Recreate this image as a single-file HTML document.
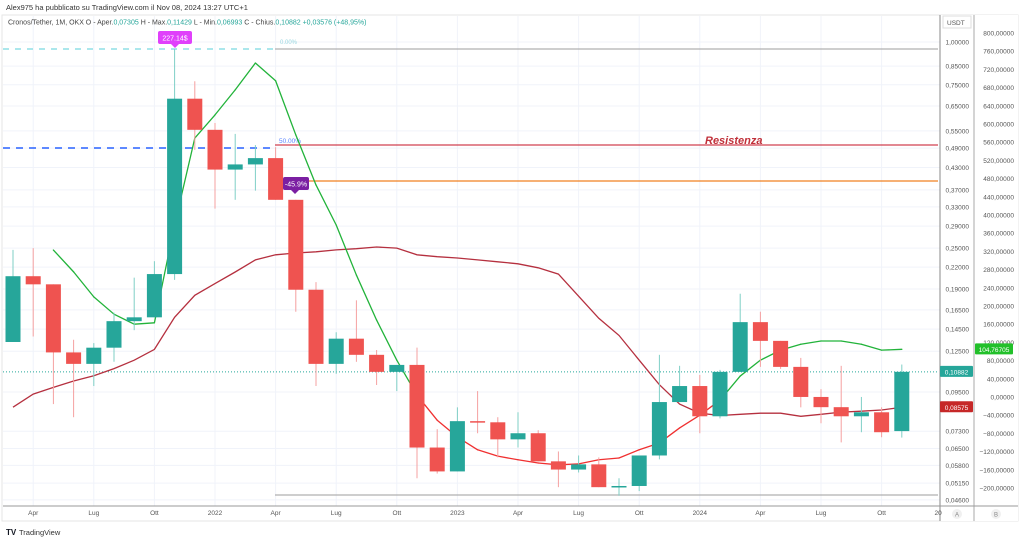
<!DOCTYPE html>
<html><head><meta charset="utf-8"><style>
html,body{margin:0;padding:0;background:#fff;width:1024px;height:541px;overflow:hidden}
svg{display:block;font-family:"Liberation Sans",sans-serif}
</style></head><body>
<svg id="chart" width="1024" height="541" viewBox="0 0 1024 541">
<rect x="0" y="0" width="1024" height="541" fill="#fff"/>
<text x="6" y="10" font-size="7.5" fill="#333">Alex975 ha pubblicato su TradingView.com il Nov 08, 2024 13:27 UTC+1</text>
<rect x="2" y="15" width="1016" height="506" fill="none" stroke="#e6e6e6"/>
<g id="grid"></g>
<g id="levels"></g>
<g id="lines"></g>
<g id="candles"></g>
<g id="axes"></g>
<text x="8" y="24.5" font-size="7" fill="#444">Cronos/Tether, 1M, OKX  O - Aper.<tspan fill="#26a69a">0,07305</tspan>  H - Max.<tspan fill="#26a69a">0,11429</tspan>  L - Min.<tspan fill="#26a69a">0,06993</tspan>  C - Chius.<tspan fill="#26a69a">0,10882  +0,03576 (+48,95%)</tspan></text>
<g><text x="6" y="535" font-size="8" font-weight="bold" fill="#131722">TV</text><text x="19" y="535" font-size="7.5" fill="#333">TradingView</text></g>
</svg>
<script>
const months=["Mar21","Apr21","May21","Jun21","Jul21","Aug21","Sep21","Oct21","Nov21","Dec21","Jan22","Feb22","Mar22","Apr22","May22","Jun22","Jul22","Aug22","Sep22","Oct22","Nov22","Dec22","Jan23","Feb23","Mar23","Apr23","May23","Jun23","Jul23","Aug23","Sep23","Oct23","Nov23","Dec23","Jan24","Feb24","Mar24","Apr24","May24","Jun24","Jul24","Aug24","Sep24","Oct24","Nov24"];
const opens=[.133,.207,.196,.124,.1148,.128,.153,.157,.210,.683,.554,.424,.439,.458,.346,.189,.1148,.136,.122,.1088,.114,.0654,.0557,.0781,.0775,.0691,.072,.0596,.0564,.0584,.0501,.0505,.062,.0888,.0989,.0807,.1088,.152,.134,.1125,.0919,.0858,.0807,.0829,.07305];
const highs=[.247,.25,.196,.135,.132,.162,.205,.229,.954,.768,.580,.539,.500,.493,.346,.199,.142,.176,.126,.1088,.128,.074,.0857,.0956,.0802,.0829,.0735,.0637,.062,.0612,.0532,.0616,.122,.1133,.1066,.1103,.184,.163,.134,.1195,.0969,.1133,.0919,.0857,.11429];
const lows=[.133,.138,.0876,.0802,.0989,.1164,.144,.157,.202,.484,.326,.346,.368,.346,.163,.0989,.1074,.1164,.0996,.0956,.0532,.0549,.0557,.072,.0612,.0654,.0596,.0501,.0553,.0501,.0473,.0488,.0604,.0888,.072,.0796,.1088,.1125,.111,.0857,.077,.0677,.0725,.0701,.06993];
const closes=[.207,.196,.124,.1148,.128,.153,.157,.210,.683,.554,.424,.439,.458,.346,.189,.1148,.136,.122,.1088,.114,.0654,.0557,.0781,.0775,.0691,.072,.0596,.0564,.0584,.0501,.0505,.062,.0888,.0989,.0807,.1088,.152,.134,.1125,.0919,.0858,.0807,.0829,.0725,.10882];
const slowMA=[.0858,.0937,.098,.1023,.106,.1112,.1177,.1265,.157,.182,.197,.213,.231,.239,.242,.244,.247,.249,.252,.25,.239,.236,.234,.231,.228,.225,.219,.21,.181,.156,.139,.1177,.0998,.0876,.0824,.0811,.0818,.0824,.0824,.0807,.0818,.083,.0835,.0842,.08575];
const fastOsc=[null,null,323,275,220,182,160,163,378,569,620,675,734,695,576,466,378,268,169,81,4,-51,-88,-116,-130,-138,-145,-149,-147,-138,-134,-116,-101,-68,-40,-7,46,81,103,116,123,123,116,103,104.77];
const priceTicks=[1.0,0.85,0.75,0.65,0.55,0.49,0.43,0.37,0.33,0.29,0.25,0.22,0.19,0.165,0.145,0.125,0.095,0.073,0.065,0.058,0.0515,0.046];
const oscTicks=[800,760,720,680,640,600,560,520,480,440,400,360,320,280,240,200,160,120,80,40,0,-40,-80,-120,-160,-200];
const timeLabels=["Apr","Lug","Ott","2022","Apr","Lug","Ott","2023","Apr","Lug","Ott","2024","Apr","Lug","Ott","20"];
const timeLabelIdx=[1,4,7,10,13,16,19,22,25,28,31,34,37,40,43,45.8];

const NS="http://www.w3.org/2000/svg";
const X=i=>13+20.2*i;
const Y=p=>42-148.7*Math.log(p);
const YB=v=>397-0.455*v;
function mk(parent,tag,attrs,text){const e=document.createElementNS(NS,tag);for(const k in attrs)e.setAttribute(k,attrs[k]);if(text!==undefined)e.textContent=text;document.getElementById(parent).appendChild(e);return e;}

priceTicks.forEach((p,k)=>{const g=mk('grid','line',{x1:3,x2:940,y1:Y(p),y2:Y(p),stroke:'#f0f3fa','stroke-width':1});

});
timeLabelIdx.forEach(i=>{if(i>45)return;const g=mk('grid','line',{x1:X(i),x2:X(i),y1:16,y2:506,stroke:'#f0f3fa','stroke-width':1});

});

function lvl(x1,x2,y,col,dash,w,name){const e=mk('levels','line',{x1:x1,x2:x2,y1:y,y2:y,stroke:col,'stroke-width':w,'stroke-dasharray':dash});

}
lvl(3,275,49,'#8fdfe5','6 6',1.5,'fib-0-dashed');
lvl(275,938,49,'#b0b0b0','',1.2,'fib-0-line');
lvl(3,275,148,'#2962ff','7 6',1.6,'fib-50-dashed');
lvl(275,938,145,'#d04050','',1.2,'resistance-line');
lvl(275,938,181,'#f08020','',1.2,'orange-level');
lvl(275,938,495,'#b0b0b0','',1.2,'fib-bottom-line');
lvl(3,938,Y(closes[closes.length-1]),'#26a69a','1 2',1,'last-price-line');
let t=mk('levels','text',{x:280,y:44,'font-size':6,fill:'#9ad7e0'},'0.00%');


t=mk('levels','text',{x:279,y:143,'font-size':6.5,fill:'#5b84ff'},'50.00%');


t=mk('levels','text',{x:705,y:144,'font-size':11,fill:'#c0303a','font-style':'italic','font-weight':'bold'},'Resistenza');



let sp=slowMA.map((v,i)=>X(i)+','+Y(v).toFixed(1)).join(' ');
let sl=mk('lines','polyline',{points:sp,fill:'none',stroke:'#b5303f','stroke-width':1.3});


for(let i=0;i<fastOsc.length-1;i++){if(fastOsc[i]===null)continue;
 const ya=YB(fastOsc[i]),yb=YB(fastOsc[i+1]);
 const pos=(fastOsc[i]+fastOsc[i+1])/2>=0;
 const s=mk('lines','line',{x1:X(i),y1:ya,x2:X(i+1),y2:yb,stroke:pos?'#22b33a':'#f03030','stroke-width':1.3,'stroke-linecap':'round'});
 
 }

for(let i=0;i<opens.length;i++){
 const up=closes[i]>=opens[i];const col=up?'#26a69a':'#ef5350';
 const w=mk('candles','line',{x1:X(i),x2:X(i),y1:Y(highs[i]),y2:Y(lows[i]),stroke:up?'#7fcfc6':'#f5a0a0','stroke-width':1});
 
 
 const t1=Y(Math.max(opens[i],closes[i])),b1=Y(Math.min(opens[i],closes[i]));
 const r=mk('candles','rect',{x:X(i)-7.5,y:t1,width:15,height:Math.max(1.5,b1-t1),fill:col});
 
 }

let a=mk('candles','rect',{x:158,y:31,width:34,height:13,rx:2,fill:'#e040fb'});


mk('candles','path',{d:'M171,44 L175,48 L179,44 Z',fill:'#e040fb'});
t=mk('candles','text',{x:175,y:40.5,'font-size':7,fill:'#fff','text-anchor':'middle'},'227.14$');


a=mk('candles','rect',{x:283,y:177,width:26,height:13,rx:2,fill:'#7b1fa2'});


mk('candles','path',{d:'M291,190 L295,194 L299,190 Z',fill:'#7b1fa2'});
t=mk('candles','text',{x:296,y:186.5,'font-size':7,fill:'#fff','text-anchor':'middle'},'-45.9%');



mk('axes','rect',{x:940,y:15,width:78,height:506,fill:'#fff'});
mk('axes','line',{x1:940,x2:940,y1:15,y2:521,stroke:'#888','stroke-width':1});
mk('axes','line',{x1:974,x2:974,y1:15,y2:521,stroke:'#aaa','stroke-width':1});
mk('axes','line',{x1:3,x2:1018,y1:506,y2:506,stroke:'#999','stroke-width':1});
t=mk('axes','rect',{x:943,y:16,width:28,height:12,fill:'#fff',stroke:'#ddd'});
t=mk('axes','text',{x:947,y:25,'font-size':6.5,fill:'#555'},'USDT');


const fmtA=p=>p.toFixed(5).replace('.',',');
priceTicks.forEach(p=>{const e=mk('axes','text',{x:969,y:Y(p)+2.5,'font-size':6.5,fill:'#555','text-anchor':'end'},fmtA(p));

});
oscTicks.forEach(v=>{const e=mk('axes','text',{x:1014,y:YB(v)+2.5,'font-size':6.5,fill:'#555','text-anchor':'end'},(v<0?'\u2212'+(-v):v)+',00000');

});
function tag(x,y,w,bg,txt,name){const r=mk('axes','rect',{x:x,y:y-6,width:w,height:11,fill:bg,rx:1});


mk('axes','text',{x:x+w/2,y:y+2.5,'font-size':6.5,fill:'#fff','text-anchor':'middle'},txt);}
tag(940,Y(closes[44]),33,'#26a69a','0,10882','last-price-tag');
tag(940,Y(slowMA[44]),33,'#c62828','0,08575','slow-ma-tag');
tag(975,YB(fastOsc[44]),38,'#22c02a','104,76705','osc-value-tag');
timeLabels.forEach((s,k)=>{const e=mk('axes','text',{x:X(timeLabelIdx[k]),y:515,'font-size':6.5,fill:'#555','text-anchor':'middle'},s);

});
[['A',957],['B',996]].forEach(([s,x])=>{mk('axes','circle',{cx:x,cy:514,r:5,fill:'#f0f0f0'});
const e=mk('axes','text',{x:x,y:516.5,'font-size':6,fill:'#888','text-anchor':'middle'},s);

});
</script>
</body></html>
